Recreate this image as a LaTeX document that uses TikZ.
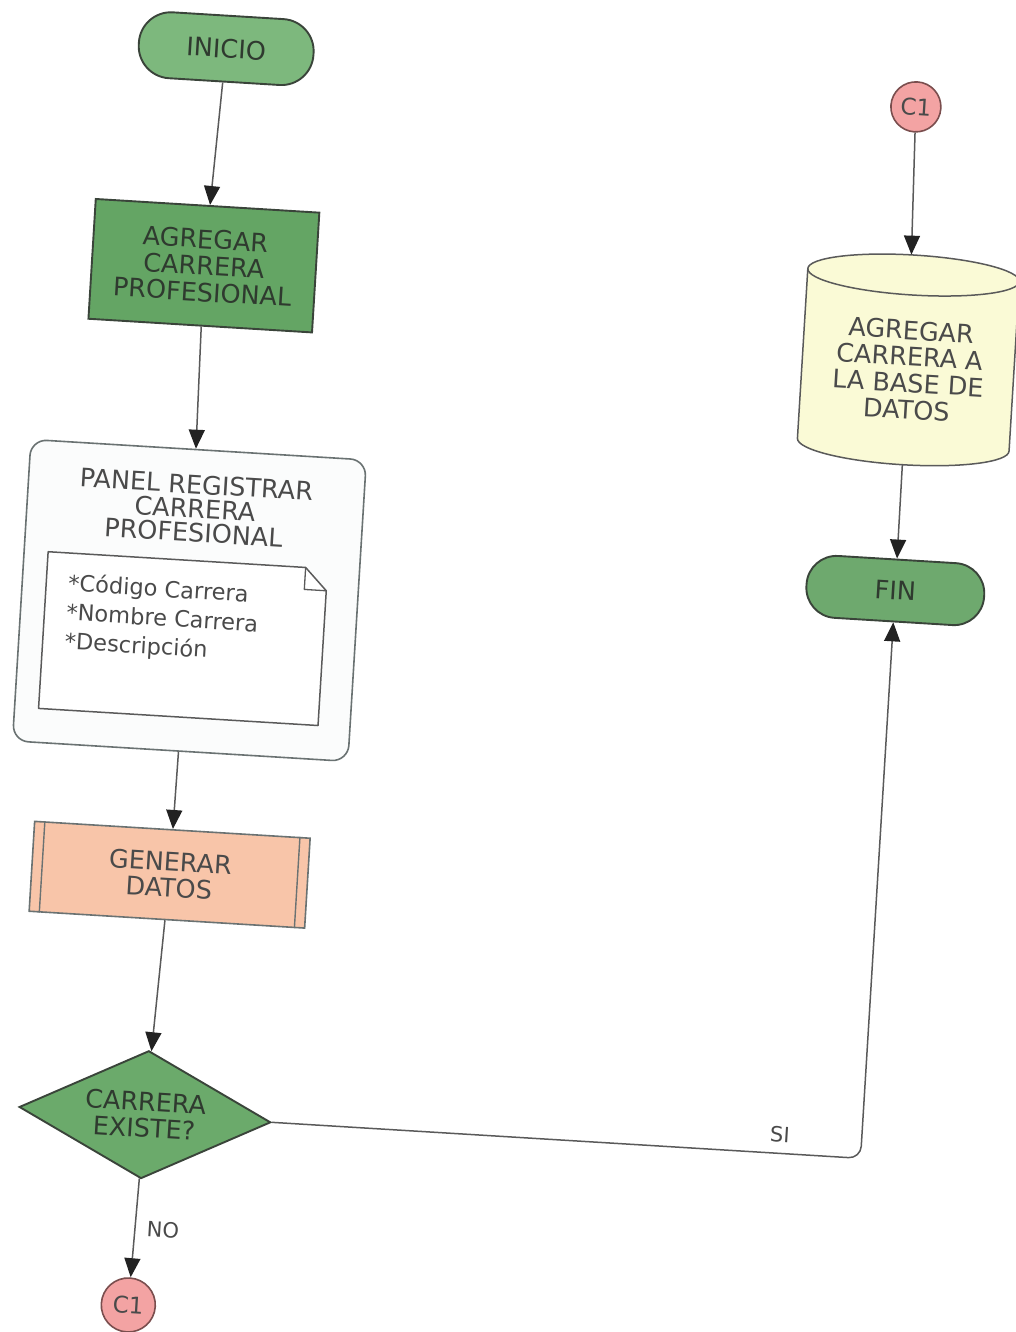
\documentclass[tikz,border=0pt]{standalone}
\usepackage{fontspec}
\setmainfont{DejaVu Sans}
\usetikzlibrary{arrows.meta,shapes.geometric}
\definecolor{gA}{HTML}{7DB87D}
\definecolor{gB}{HTML}{64A564}
\definecolor{gC}{HTML}{6BAA6B}
\definecolor{gD}{HTML}{6EA96E}
\definecolor{pinkc}{HTML}{F3A3A3}
\definecolor{pinkedge}{HTML}{7A4E4E}
\definecolor{peach}{HTML}{F8C5A9}
\definecolor{cream}{HTML}{FAFAD6}
\definecolor{lineg}{HTML}{5A5A5A}
\definecolor{tipc}{HTML}{222222}
\definecolor{edge}{HTML}{3A443A}
\definecolor{txtdark}{HTML}{2F3A2F}
\definecolor{txtgray}{HTML}{4A4A4A}
\definecolor{panelfill}{HTML}{FBFCFC}
\definecolor{paneledge}{HTML}{6A7272}
\begin{document}
\begin{tikzpicture}[x=1pt,y=1pt,
  every node/.style={font=\fontsize{25.5}{26.5}\selectfont, align=center, inner sep=0pt},
  term/.style={draw=edge, line width=1.9pt, rectangle, rounded corners=32pt, minimum width=175pt, minimum height=66pt, text=txtdark},
  proc/.style={draw=edge, line width=1.9pt, rectangle, minimum width=224pt, minimum height=120pt, text=txtdark},
  panelbox/.style={draw=paneledge, line width=1.6pt, fill=panelfill, rectangle, rounded corners=16pt, minimum width=336pt, minimum height=302pt},
  subproc/.style={draw=paneledge, line width=1.6pt, fill=peach, rectangle, minimum width=276pt, minimum height=90pt, text=txtgray},
  decis/.style={draw=edge, line width=1.9pt, fill=gC, diamond, aspect=2, minimum width=252pt, minimum height=128pt, text=txtdark},
  connc/.style={draw=pinkedge, line width=1.6pt, fill=pinkc, circle, minimum size=#1, text=txtgray, font=\fontsize{23}{24}\selectfont},
  lbl/.style={text=txtgray, font=\fontsize{21}{22}\selectfont},
  link/.style={draw=lineg, line width=1.5pt, -{Triangle[length=19pt,width=16pt,color=tipc]}},
]
\useasboundingbox (0,0) rectangle (1016,-1332);
\fill[white] (0,0) rectangle (1016,-1332);
\begin{scope}[rotate around={-3.5:(508,-666)}, transform shape]
% left column
\node[term, fill=gA] (ini) at (189,-67) {INICIO};
\node[proc, fill=gB] (agr) at (180,-285) {AGREGAR\\CARRERA\\PROFESIONAL};
\node[panelbox] (pan) at (186,-620) {};
\node[text=txtgray, font=\fontsize{25.5}{24}\selectfont] (ptitle) at (186,-528) {PANEL REGISTRAR\\CARRERA\\PROFESIONAL};
% document (dog-ear) inside the panel
\draw[draw=lineg, line width=1.5pt, fill=white, line join=round]
  (42,-580) -- (300,-580) -- (322,-602) -- (322,-737) -- (42,-737) -- cycle;
\draw[draw=lineg, line width=1.3pt, line join=round] (300,-580) -- (300,-602) -- (322,-602);
\node[anchor=north west, align=left, text=txtgray, font=\fontsize{22.5}{29}\selectfont] (items) at (64,-600)
  {*Código Carrera\\*Nombre Carrera\\*Descripción};
\node[subproc] (gen) at (183,-895) {GENERAR\\DATOS};
\draw[draw=paneledge, line width=1.4pt] ([xshift=11pt]gen.north west) -- ([xshift=11pt]gen.south west);
\draw[draw=paneledge, line width=1.4pt] ([xshift=-11pt]gen.north east) -- ([xshift=-11pt]gen.south east);
\node[decis] (dec) at (173,-1136) {CARRERA\\EXISTE?};
\node[connc=54pt] (c1a) at (168,-1327) {C1};
% right column
\node[connc=50pt] (c1b) at (881,-83) {C1};
\node[minimum width=212pt, minimum height=210pt] (db) at (889,-336) {};
\draw[draw=lineg, line width=1.5pt, fill=cream]
  (783,-251) -- (783,-421) arc[start angle=180, end angle=360, x radius=106, y radius=20]
  -- (995,-251) arc[start angle=0, end angle=180, x radius=106, y radius=20] -- cycle;
\draw[draw=lineg, line width=1.5pt] (783,-251) arc[start angle=180, end angle=360, x radius=106, y radius=20];
\node[text=txtgray] (dbtext) at (890,-346) {AGREGAR\\CARRERA A\\LA BASE DE\\DATOS};
\node[term, fill=gD, minimum width=178pt, minimum height=62pt, rounded corners=30pt] (fin) at (890,-567) {FIN};
% connectors
\draw[link] (ini) -- (agr);
\draw[link] (agr) -- (pan);
\draw[link] (pan) -- (gen);
\draw[link] (gen) -- (dec);
\draw[link] (dec) -- (c1a);
\draw[link] (c1b) -- (db);
\draw[link] (db) -- (fin);
\draw[link, rounded corners=12pt] (dec.east) -| (fin.south);
\node[lbl] (no) at (198,-1250) {NO};
\node[lbl] (si) at (808,-1117) {SI};
\end{scope}
\end{tikzpicture}
\end{document}
